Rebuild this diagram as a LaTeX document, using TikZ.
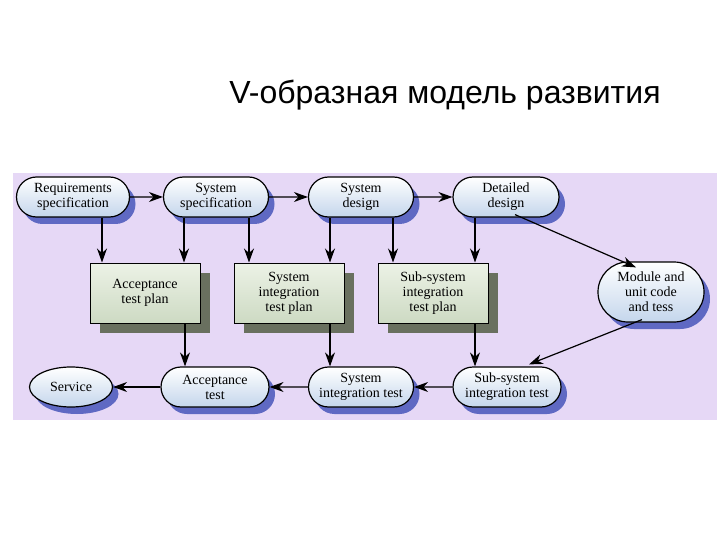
\documentclass[tikz,border=0pt]{standalone}
\usepackage{fontspec}
\setmainfont{Liberation Serif}
\newfontfamily\titlefont{Liberation Sans}
\usetikzlibrary{arrows.meta,shapes.geometric,shapes.misc,calc}
\definecolor{panel}{RGB}{230,216,246}
\definecolor{ovalsh}{RGB}{95,105,195}
\definecolor{boxsh}{RGB}{105,112,95}
\definecolor{ovalb}{RGB}{196,214,236}
\definecolor{boxa}{RGB}{236,242,230}
\definecolor{boxb}{RGB}{205,218,195}
\begin{document}
\begin{tikzpicture}[x=1pt,y=-1pt,
  oval/.style={rounded rectangle,minimum width=#1,minimum height=40,inner sep=1pt,
    draw=black,line width=1.2pt,top color=white,bottom color=ovalb,align=center,
    font=\fontsize{14}{15}\selectfont,
    preaction={fill=ovalsh,draw=none,transform canvas={shift={(6pt,-7pt)}}}},
  oval/.default=107,
  plan/.style={rectangle,minimum width=110,minimum height=60,inner sep=1pt,
    draw=black,line width=1pt,top color=boxa,bottom color=boxb,align=center,
    font=\fontsize{14}{15}\selectfont,
    preaction={fill=boxsh,draw=none,transform canvas={shift={(10pt,-10pt)}}}},
  arr/.style={line width=1.2pt,-{Stealth[length=14pt,width=10pt]}}]
\useasboundingbox (0,0) rectangle (720,540);
\fill[white] (0,0) rectangle (720,540);
\node[font=\titlefont\fontsize{32}{36}\selectfont] (title) at (445,95) {V-образная модель развития};
\fill[panel] (13,173) rectangle (717,420);
\node[oval=115] (req) at (73,197) {Requirements\\specification};
\node[oval] (sspec) at (216,197) {System\\specification};
\node[oval] (sdes) at (361,197) {System\\design};
\node[oval=108] (det) at (506,197) {Detailed\\design};
\node[plan] (atp) at (145,293) {Acceptance\\test plan};
\node[plan] (sitp) at (289,293) {System\\integration\\test plan};
\node[plan] (ssitp) at (433,293) {Sub-system\\integration\\test plan};
\node[oval=108,minimum height=60] (mod) at (651,292) {Module and\\unit code\\and tess};
\node[ellipse,draw=black,line width=1.2pt,top color=white,bottom color=ovalb,minimum width=83,minimum height=40,inner sep=1pt,font=\fontsize{14}{15}\selectfont,
  preaction={fill=ovalsh,draw=none,transform canvas={shift={(6pt,-7pt)}}}] (serv) at (71,387) {Service};
\node[oval=110] (at) at (215,387) {Acceptance\\test};
\node[oval] (sit) at (361,387) {System\\integration test};
\node[oval=110] (ssit) at (507,387) {Sub-system\\integration test};
% top row
\draw[arr] (req) -- (sspec);
\draw[arr] (sspec) -- (sdes);
\draw[arr] (sdes) -- (det);
% downs
\draw[arr] (req.south -| 102,0) -- (atp.north -| 102,0);
\draw[arr] (sspec.south -| 184,0) -- (atp.north -| 184,0);
\draw[arr] (sspec.south -| 249,0) -- (sitp.north -| 249,0);
\draw[arr] (sdes.south -| 330,0) -- (sitp.north -| 330,0);
\draw[arr] (sdes.south -| 393,0) -- (ssitp.north -| 393,0);
\draw[arr] (det.south -| 475,0) -- (ssitp.north -| 475,0);
\draw[arr] (atp.south -| 185,0) -- (at.north -| 185,0);
\draw[arr] (sitp.south -| 330,0) -- (sit.north -| 330,0);
\draw[arr] (ssitp.south -| 475,0) -- (ssit.north -| 475,0);
% diagonals
\coordinate (d1) at ($(det.south east)+(-24,-3)$);
\coordinate (m2) at ($(mod.north west)+(8,6)$);
\coordinate (m1) at ($(mod.south west)+(14,-3)$);
\coordinate (s1) at ($(ssit.north east)+(-12,-2)$);
\draw[arr] (d1) -- (m2);
\draw[arr] (m1) -- (s1);
% bottom row
\draw[arr] (ssit) -- (sit);
\draw[arr] (sit) -- (at);
\draw[arr] (at) -- (serv);
\end{tikzpicture}
\end{document}
